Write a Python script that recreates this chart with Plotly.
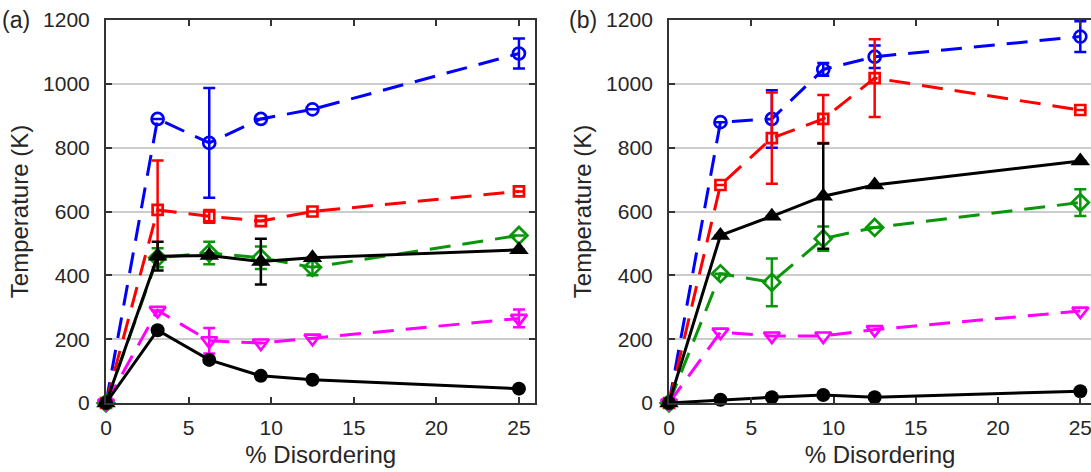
import plotly.graph_objects as go

x = [0, 3.125, 6.25, 9.375, 12.5, 25]

# Panel (a)
a_blue = [0, 890, 815, 890, 920, 1095]
a_blue_err = [0, 0, 172, 0, 0, 47]
a_red = [0, 605, 585, 570, 600, 663]
a_red_err = [0, 155, 20, 0, 0, 0]
a_green = [0, 455, 470, 455, 425, 525]
a_green_err = [0, 30, 35, 35, 25, 0]
a_magenta = [0, 290, 195, 188, 203, 265]
a_magenta_err = [0, 0, 40, 0, 0, 28]
a_tri = [0, 460, 462, 443, 455, 480]
a_tri_err = [0, 45, 0, 72, 0, 0]
a_dot = [0, 228, 135, 85, 73, 45]

# Panel (b)
b_blue = [0, 880, 890, 1045, 1085, 1148]
b_blue_err = [0, 0, 90, 20, 35, 48]
b_red = [0, 683, 830, 890, 1018, 918]
b_red_err = [0, 0, 143, 75, 122, 0]
b_green = [0, 405, 378, 515, 550, 628]
b_green_err = [0, 0, 75, 38, 0, 42]
b_magenta = [0, 222, 210, 210, 230, 288]
b_magenta_err = [0, 0, 0, 0, 0, 0]
b_tri = [0, 525, 585, 648, 683, 758]
b_tri_err = [0, 0, 0, 165, 0, 0]
b_dot = [0, 10, 18, 25, 18, 37]

y_ticks = [0, 200, 400, 600, 800, 1000, 1200]
x_ticks = [0, 5, 10, 15, 20, 25]

BLUE = "#0000ff"
RED = "#ff0000"
GREEN = "#0a960a"
MAGENTA = "#ff00ff"
BLACK = "#000000"
DASH = "21px,12px"
LW = 3

fig = go.Figure()


def add(xa, ya, yv, err, color, symbol, size, dash, filled=False):
    kw = {}
    if err is not None and any(e > 0 for e in err):
        kw["error_y"] = dict(type="data", array=err, visible=True, color=color,
                             thickness=2.5, width=6)
    fig.add_trace(go.Scatter(
        x=x, y=yv, xaxis=xa, yaxis=ya, mode="lines+markers",
        line=dict(color=color, width=LW, dash=dash),
        marker=dict(symbol=symbol, size=size, color=color,
                    line=dict(color=color, width=2.7 if not filled else 0)),
        cliponaxis=False, showlegend=False, **kw))


for xa, ya, d in [("x", "y", (a_blue, a_blue_err, a_red, a_red_err, a_green, a_green_err,
                               a_magenta, a_magenta_err, a_tri, a_tri_err, a_dot)),
                  ("x2", "y2", (b_blue, b_blue_err, b_red, b_red_err, b_green, b_green_err,
                                b_magenta, b_magenta_err, b_tri, b_tri_err, b_dot))]:
    blue, blue_e, red, red_e, green, green_e, mag, mag_e, tri, tri_e, dot = d
    add(xa, ya, blue, blue_e, BLUE, "circle-open", 12, DASH)
    add(xa, ya, red, red_e, RED, "square-open", 10, DASH)
    add(xa, ya, green, green_e, GREEN, "diamond-open", 13, DASH)
    add(xa, ya, mag, mag_e, MAGENTA, "triangle-down-open", 14, DASH)
    add(xa, ya, tri, tri_e, BLACK, "triangle-up", 17, "solid", filled=True)
    add(xa, ya, dot, None, BLACK, "circle", 14, "solid", filled=True)

FONT = "Liberation Sans, Arial, Helvetica, sans-serif"
TXT = "#262626"
axis_common = dict(showline=True, linecolor="#333333", linewidth=2, mirror="ticks",
                   ticks="inside", ticklen=6, tickwidth=2, tickcolor="#333333",
                   zeroline=False, tickfont=dict(size=21, color=TXT, family=FONT))

fig.update_layout(
    width=1091, height=472,
    margin=dict(l=106, r=0, t=20, b=69),
    paper_bgcolor="white", plot_bgcolor="white",
    font=dict(family=FONT, color=TXT),
    xaxis=dict(domain=[0, 0.436], range=[0, 26], tickvals=x_ticks, showgrid=False,
               ticklabelstandoff=5,
               title=dict(text="% Disordering", font=dict(size=24, color=TXT), standoff=8),
               **axis_common),
    yaxis=dict(domain=[0, 1], range=[0, 1200], tickvals=y_ticks, showgrid=True,
               gridcolor="#cccccc", gridwidth=2, ticklabelstandoff=10,
               title=dict(text="Temperature (K)", font=dict(size=24, color=TXT), standoff=8),
               **axis_common),
    xaxis2=dict(domain=[0.5716, 1], range=[0, 25.65], tickvals=x_ticks, showgrid=False,
                anchor="y2", ticklabelstandoff=5, ticklabeloverflow="allow",
                title=dict(text="% Disordering", font=dict(size=24, color=TXT), standoff=8),
                **axis_common),
    yaxis2=dict(domain=[0, 1], range=[0, 1200], tickvals=y_ticks, showgrid=True,
                anchor="x2", gridcolor="#cccccc", gridwidth=2, ticklabelstandoff=10,
                title=dict(text="Temperature (K)", font=dict(size=24, color=TXT), standoff=8),
                **{**axis_common, "mirror": False}),
    annotations=[
        dict(text="(a)", xref="paper", yref="paper", x=-0.1076, y=1.0, xanchor="left",
             yanchor="middle", showarrow=False, font=dict(size=23, color=TXT, family=FONT)),
        dict(text="(b)", xref="paper", yref="paper", x=(567 - 106) / 985, y=1.0, xanchor="left",
             yanchor="middle", showarrow=False, font=dict(size=23, color=TXT, family=FONT)),
    ],
)

fig.write_html("out.html")
